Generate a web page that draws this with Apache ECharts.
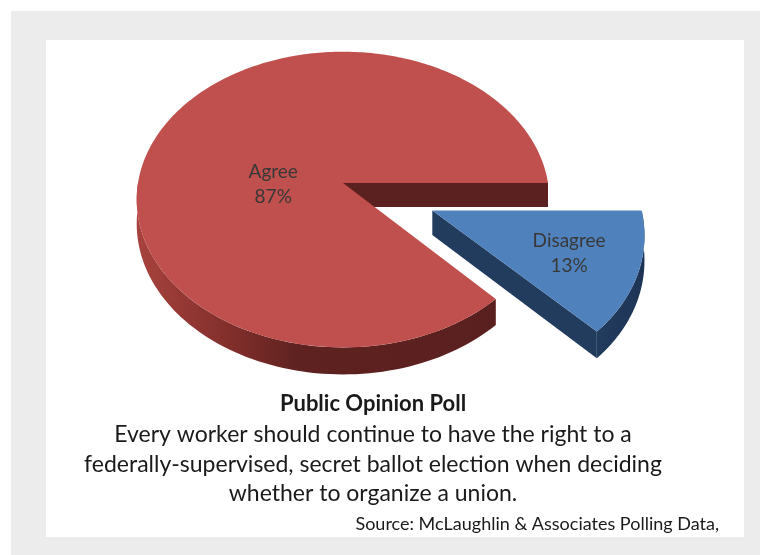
<!DOCTYPE html>
<html>
<head>
<meta charset="utf-8">
<script src="https://cdn.jsdelivr.net/npm/echarts@6/dist/echarts.min.js"></script>
<style>
  html, body { margin: 0; padding: 0; background: #ffffff; }
  #chart { width: 760px; height: 555px; }
</style>
</head>
<body>
<div id="chart"></div>
<script>
// Poll answers, in drawing order starting at the 3 o'clock position
const categories = ['Disagree', 'Agree'];
const values = [13, 87];

// Caption text under the pie
const titleText = 'Public Opinion Poll';
const questionLines = [
  'Every worker should continue to have the right to a',
  'federally-supervised, secret ballot election when deciding',
  'whether to organize a union.'
];
const sourceText = 'Source: McLaughlin & Associates Polling Data,';

// ---- 3D pie geometry (pixel space of the hidden axes) ----
const CX = 343, CY = 183;      // apex of the pie on the top face
const RX = 205, RY = 146;      // radii of the tilted disc
const PERSP = 0.112;           // simple perspective: front grows, back shrinks
const DEPTH = 24;              // thickness of the pie
const EXPLODE = { Disagree: 0.465 };
const LABEL_ANCHOR = {         // label centre in disc units, relative to each slice's apex
  Agree: [-0.34, 0.01],
  Disagree: [0.62, 0.27]
};
const FILL = {
  Agree: { top: '#c0504d', cut: '#5b2120',
           rim: [[0, '#a8423e'], [0.28, '#7e2d2a'], [0.45, '#5e2220'], [1, '#5a201f']] },
  Disagree: { top: '#4f81bd', cut: '#223c5e',
              rim: [[0, '#223c5e'], [1, '#1d3455']] }
};
const FONT = 'Lato, "Open Sans", sans-serif';

const total = values.reduce((a, b) => a + b, 0);
const startFrac = values.map((v, i) => values.slice(0, i).reduce((a, b) => a + b, 0) / total);

function renderSlice(params, api) {
  const i = params.dataIndex;
  const name = categories[i];
  const a0 = startFrac[i] * Math.PI * 2;
  const a1 = a0 + values[i] / total * Math.PI * 2;
  const mid = (a0 + a1) / 2;
  const ex = EXPLODE[name] || 0;
  const ox = ex * Math.cos(mid), oz = ex * Math.sin(mid);

  function proj(x, z, h) {
    const p = 1 / (1 - PERSP * z);
    return api.coord([CX + RX * x * p, CY + RY * z * p + DEPTH * h * p]);
  }
  const rimPt = (t, h) => proj(ox + Math.cos(t), oz + Math.sin(t), h);
  const apex = h => proj(ox, oz, h);
  const fill = FILL[name];
  const children = [];

  // straight cut walls, only the ones that face the viewer
  if (Math.cos(a1) > 0) {
    children.push({ type: 'polygon', shape: { points: [apex(0), rimPt(a1, 0), rimPt(a1, 1), apex(1)] },
                    style: { fill: fill.cut } });
  }
  if (Math.cos(a0) < 0) {
    children.push({ type: 'polygon', shape: { points: [apex(0), rimPt(a0, 0), rimPt(a0, 1), apex(1)] },
                    style: { fill: fill.cut } });
  }

  // outer rim on the front half of the disc
  const r0 = Math.max(a0, 0), r1 = Math.min(a1, Math.PI);
  if (r1 > r0) {
    const top = [], bot = [];
    const n = 80;
    for (let k = 0; k <= n; k++) {
      const t = r0 + (r1 - r0) * k / n;
      top.push(rimPt(t, 0));
      bot.push(rimPt(t, 1));
    }
    const xs = top.map(p => p[0]);
    const xmin = Math.min(...xs), xmax = Math.max(...xs);
    children.push({
      type: 'polygon',
      shape: { points: top.concat(bot.reverse()) },
      style: {
        fill: {
          type: 'linear', global: true,
          x: xmin, y: 0, x2: xmax, y2: 0,
          colorStops: fill.rim.map(s => ({ offset: s[0], color: s[1] }))
        }
      }
    });
  }

  // top face
  const face = [apex(0)];
  const n = Math.max(12, Math.round((a1 - a0) * 60));
  for (let k = 0; k <= n; k++) face.push(rimPt(a0 + (a1 - a0) * k / n, 0));
  children.push({ type: 'polygon', shape: { points: face }, style: { fill: fill.top } });

  // label: category name and its share
  const la = LABEL_ANCHOR[name];
  const lp = proj(ox + la[0], oz + la[1], 0);
  children.push({
    type: 'text',
    style: {
      text: name + '\n' + values[i] + '%',
      x: lp[0], y: lp[1],
      align: 'center', verticalAlign: 'middle',
      fill: '#383838', font: '19px ' + FONT, lineHeight: 25
    }
  });

  return { type: 'group', children: children };
}

const chart = echarts.init(document.getElementById('chart'), null, { renderer: 'canvas' });

const captionX = 373;
const captionStyle = { align: 'center', verticalAlign: 'middle', font: '23px ' + FONT, fill: '#1a1a1a' };
chart.setOption({
  animation: false,
  grid: { left: 0, right: 0, top: 0, bottom: 0 },
  xAxis: { type: 'value', min: 0, max: 760, show: false },
  yAxis: { type: 'value', min: 0, max: 555, inverse: true, show: false },
  graphic: [
    { type: 'rect', z: -100, shape: { x: 11, y: 11, width: 749, height: 544 }, style: { fill: '#ececec' } },
    { type: 'rect', z: -99, shape: { x: 46, y: 40, width: 698, height: 497 }, style: { fill: '#ffffff' } },
    { type: 'text', z: 10, style: { text: titleText, x: captionX, y: 404, align: 'center', verticalAlign: 'middle',
        font: 'bold 22px ' + FONT, fill: '#1a1a1a' } },
    { type: 'text', z: 10, style: Object.assign({ text: questionLines[0], x: captionX, y: 435 }, captionStyle) },
    { type: 'text', z: 10, style: Object.assign({ text: questionLines[1], x: captionX, y: 465 }, captionStyle) },
    { type: 'text', z: 10, style: Object.assign({ text: questionLines[2], x: captionX, y: 494 }, captionStyle) },
    { type: 'text', z: 10, style: { text: sourceText, x: 719, y: 524, align: 'right', verticalAlign: 'middle',
        font: '18px ' + FONT, fill: '#1a1a1a' } }
  ],
  series: [{
    type: 'custom',
    coordinateSystem: 'cartesian2d',
    renderItem: renderSlice,
    data: values.map((v, i) => ({ name: categories[i], value: [i, v] })),
    silent: true
  }]
});
</script>
</body>
</html>
